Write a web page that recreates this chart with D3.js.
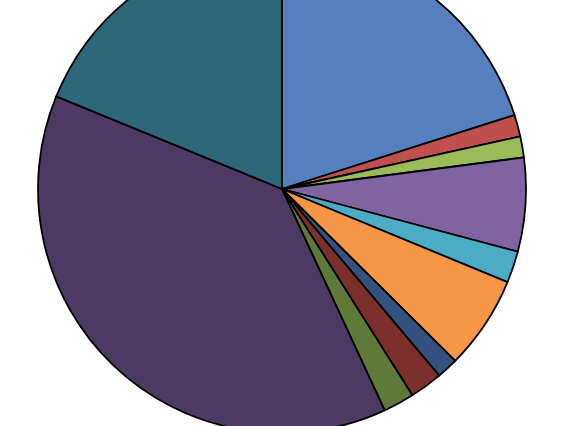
<!DOCTYPE html>
<html>
<head>
<meta charset="UTF-8">
<script src="https://d3js.org/d3.v7.min.js"></script>
<style>
  body { margin: 0; background: #fff; }
</style>
</head>
<body>
<svg width="568" height="426"></svg>
<script>
  // slice shares (%), clockwise from 12 o'clock
  const categories = ["A", "B", "C", "D", "E", "F", "G", "H", "I", "J", "K"];
  const values = [20.1, 1.44, 1.39, 6.2, 2.1, 6.2, 1.42, 2.17, 2.06, 38.1, 18.8];
  const colors = ["#557FBD", "#C0504D", "#9BBB59", "#8064A2", "#4BACC6", "#F79646",
                  "#33527F", "#7D2F2C", "#5F7A38", "#4D3A62", "#2E6878"];

  const svg = d3.select("svg");
  const cx = 282, cy = 189, r = 244;

  const pie = d3.pie().sort(null).value(d => d.v);
  const arc = d3.arc().innerRadius(0).outerRadius(r);
  const color = d3.scaleOrdinal().domain(categories).range(colors);

  const data = categories.map((c, i) => ({c: c, v: values[i]}));

  svg.append("g")
    .attr("transform", `translate(${cx},${cy})`)
    .selectAll("path")
    .data(pie(data))
    .enter().append("path")
    .attr("d", arc)
    .attr("fill", d => color(d.data.c))
    .attr("stroke", "#000")
    .attr("stroke-width", 1.8)
    .attr("stroke-linejoin", "round");
</script>
</body>
</html>
